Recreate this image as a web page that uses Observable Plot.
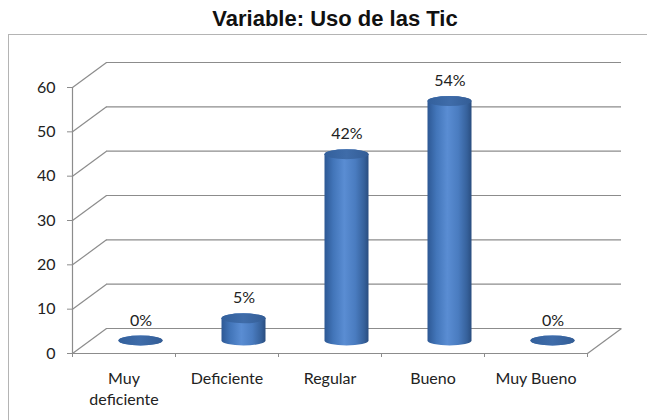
<!DOCTYPE html>
<html><head><meta charset="utf-8">
<script src="https://cdn.jsdelivr.net/npm/d3@7"></script>
<script src="https://cdn.jsdelivr.net/npm/@observablehq/plot@0.6"></script>
<style>
html,body{margin:0;padding:0;width:647px;height:420px;overflow:hidden;background:#fff;position:relative;}
#frame{position:absolute;left:8px;top:34px;width:700px;height:500px;border:1.5px solid #b4b4b4;box-sizing:border-box;}
#title{position:absolute;left:0;top:8px;width:670px;text-align:center;font:bold 22px/22px "Liberation Sans",Arial,sans-serif;color:#111;}
#chart{position:absolute;left:0;top:0;}
</style></head><body>
<svg width="0" height="0" style="position:absolute">
<defs>
<linearGradient id="cyl" x1="0" x2="1" y1="0" y2="0">
<stop offset="0" stop-color="#2d5894"/>
<stop offset="0.2" stop-color="#4275b9"/>
<stop offset="0.45" stop-color="#5a8dd3"/>
<stop offset="0.7" stop-color="#4a7cc0"/>
<stop offset="0.9" stop-color="#36619b"/>
<stop offset="1" stop-color="#2a4d7f"/>
</linearGradient>
<linearGradient id="cap" x1="0" x2="1" y1="0" y2="0">
<stop offset="0" stop-color="#33609c"/>
<stop offset="0.5" stop-color="#3f6ca9"/>
<stop offset="1" stop-color="#335d96"/>
</linearGradient>
</defs>
</svg>
<div id="frame"></div>
<div id="title">Variable: Uso de las Tic</div>
<div id="chart"></div>
<script>
const categories = ["Muy\ndeficiente", "Deficiente", "Regular", "Bueno", "Muy Bueno"];
const values = [0, 5, 42, 54, 0];
const valueLabels = ["0%", "5%", "42%", "54%", "0%"];
const yTicks = [0, 10, 20, 30, 40, 50, 60];
const xBoundaries = [0, 1, 2, 3, 4, 5];

const W = 647, H = 420, mL = 72, mR = 60, mT = 87, mB = 67;
const DEPTH_X = 34, DEPTH_Y = 25; // perspective depth in px
const dX = DEPTH_X * categories.length / (W - mL - mR);
const dY = DEPTH_Y * 60 / (H - mT - mB);
const grid = "#8c8c8c";
const FS = 16;

const data = categories.map((c, i) => ({i, c, v: values[i], label: valueLabels[i]}));

const cyl = {x1: d => d.i, x2: d => d.i + 1, insetLeft: 29.5, insetRight: 29.5,
  insetTop: -5, insetBottom: -5, rx: 22, ry: 5, dx: 17, dy: -12.5};

const chart = Plot.plot({
  width: W, height: H, marginLeft: mL, marginRight: mR, marginTop: mT, marginBottom: mB,
  x: {type: "linear", domain: [0, categories.length]},
  y: {domain: [0, 60]},
  style: {fontFamily: "Lato, sans-serif", fontSize: FS + "px", color: "#222", background: "transparent", overflow: "visible"},
  marks: [
    Plot.ruleY(yTicks, {y: t => t + dY, x1: dX, x2: categories.length + dX, stroke: grid, strokeWidth: 1.2}),
    Plot.link(yTicks, {x1: 0, y1: t => t, x2: dX, y2: t => t + dY, stroke: grid, strokeWidth: 1.2}),
    Plot.link([categories.length], {x1: d => d, y1: 0, x2: d => d + dX, y2: dY, stroke: grid, strokeWidth: 1.2}),
    Plot.ruleY([0], {stroke: grid, strokeWidth: 1.2}),
    Plot.ruleX([0], {stroke: grid, strokeWidth: 1.2}),
    Plot.axisY({ticks: yTicks, tickSize: 5, tickPadding: 12, stroke: grid, fontSize: FS}),
    Plot.axisX({ticks: xBoundaries, tickSize: 4, tickFormat: () => "", stroke: grid}),
    Plot.text(data, {x: d => d.i + 0.5, y: 0, text: d => d.c, dy: 15, lineAnchor: "top", lineHeight: 1.35, fontSize: FS}),
    Plot.rect(data, {...cyl, y1: 0, y2: d => d.v, fill: "url(#cyl)"}),
    Plot.rect(data, {...cyl, y1: d => d.v, y2: d => d.v, fill: "url(#cap)"}),
    Plot.text(data, {x: d => d.i + 0.5, y: d => d.v, text: d => d.label, dx: 17, dy: -33, fontSize: FS})
  ]
});
document.getElementById("chart").appendChild(chart);
</script>
</body></html>
